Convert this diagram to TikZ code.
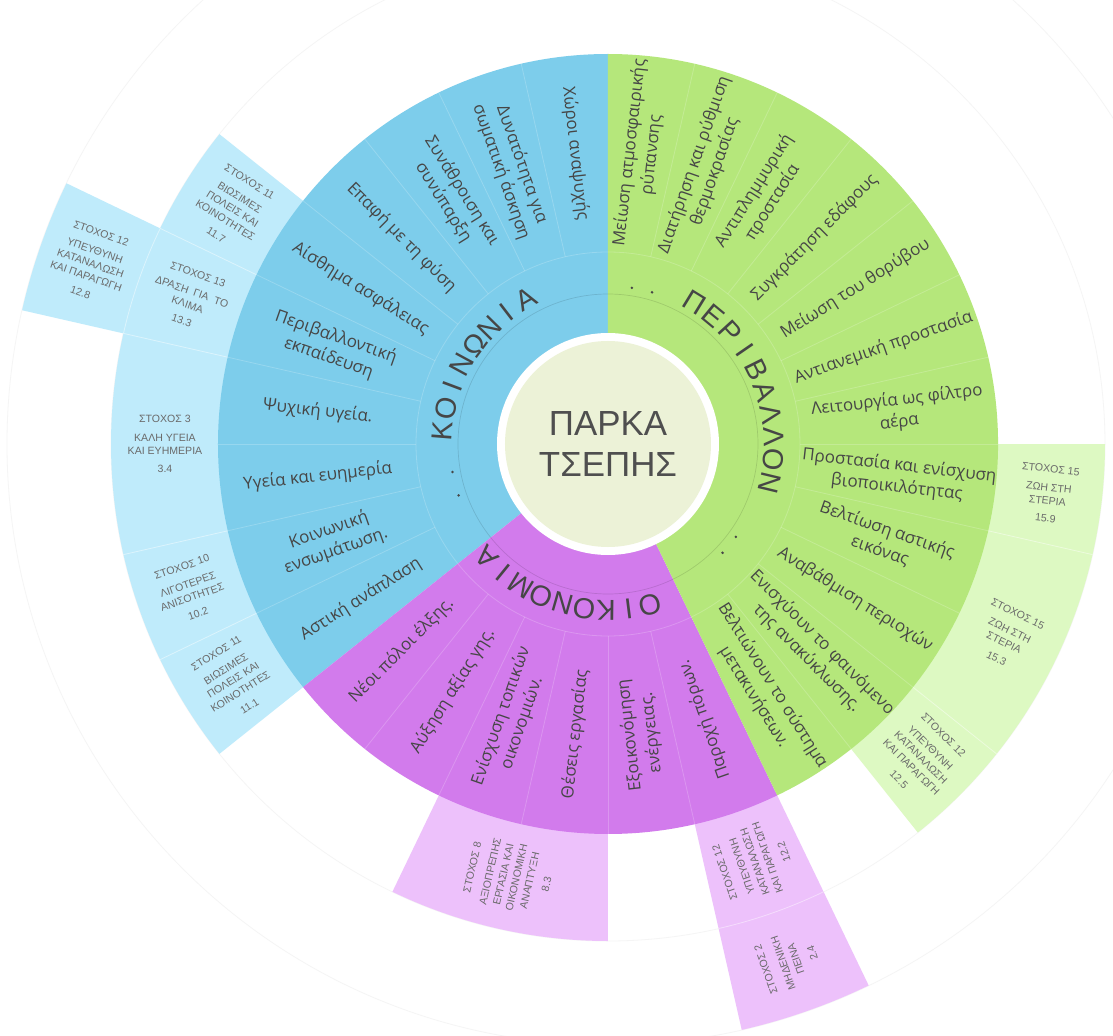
\documentclass[tikz,border=0pt]{standalone}
\usepackage{fontspec}
\setmainfont{Open Sans}
\newfontfamily\arialf{Liberation Sans}
\definecolor{cblue}{HTML}{7DCDEB}
\definecolor{cbluel}{HTML}{BFEBFB}
\definecolor{cgreen}{HTML}{B5E77B}
\definecolor{cgreenl}{HTML}{DDF9C2}
\definecolor{cpurp}{HTML}{D27BEC}
\definecolor{cpurpl}{HTML}{EDC1FB}
\definecolor{cpale}{HTML}{ECF2D7}
\definecolor{ctext}{HTML}{464646}
\definecolor{cbox}{HTML}{6A6A6A}
\definecolor{ctitle}{HTML}{4F4F4F}
\newcommand\ringsec[5]{\fill[#1] (#2:#4) arc[start angle=#2,end angle=#3,radius=#4] -- (#3:#5) arc[start angle=#3,end angle=#2,radius=#5] -- cycle;}
\begin{document}
\begin{tikzpicture}[x=1bp,y=1bp,
  item/.style={font=\fontsize{17}{22}\selectfont, text=ctext, align=center, inner sep=0pt},
  sdg/.style={font=\arialf\fontsize{10.6}{13.5}\selectfont, text=cbox, align=center, inner sep=0pt},
  catl/.style={font=\arialf\fontsize{29}{29}\selectfont, text=ctext, inner sep=0pt},
  divl/.style={white, opacity=0.2, line width=0.8bp},
  boxl/.style={white, opacity=0.45, line width=0.8bp},
  faint/.style={black!4, line width=0.8bp}
]
\useasboundingbox (-608,-592) rectangle (505,444);
\fill[white] (-608,-592) rectangle (505,444);
% faint guide circles
\draw[faint] (0,0) circle[radius=497];
\draw[faint] (0,0) circle[radius=601];
% outer SDG rings
\ringsec{cbluel}{141.43}{218.57}{385}{497}
\ringsec{cbluel}{154.29}{167.14}{495}{601}
\ringsec{cgreenl}{-51.43}{0}{385}{497}
\ringsec{cpurpl}{244.29}{270}{385}{497}
\ringsec{cpurpl}{282.86}{295.71}{385}{601}
% box separators
\foreach \a in {154.29,167.14,192.86,205.71,-12.86,-38.57}
  \draw[boxl] (\a:390) -- (\a:497);
\draw[boxl] (154.29:497) arc[start angle=154.29,end angle=167.14,radius=497];
\draw[boxl] (282.86:497) arc[start angle=282.86,end angle=295.71,radius=497];
% main sectors
\fill[cblue] (0,0) -- (90:390) arc[start angle=90,end angle=218.57,radius=390] -- cycle;
\fill[cpurp] (0,0) -- (218.57:390) arc[start angle=218.57,end angle=295.71,radius=390] -- cycle;
\fill[cgreen] (0,0) -- (-64.29:390) arc[start angle=-64.29,end angle=90,radius=390] -- cycle;
% item dividers
\draw[divl] (0,0) circle[radius=192];
\foreach \k in {1,...,9,11,12,13,14,15,17,18,...,27}
  \draw[divl] ({90+\k*12.857143}:192) -- ({90+\k*12.857143}:390);
\draw[black, opacity=0.12, line width=0.7bp] (0,0) circle[radius=150];
% centre
\fill[white] (0,0) circle[radius=111];
\fill[cpale] (0,0) circle[radius=103];
\node[font=\arialf\fontsize{35}{42}\selectfont, text=ctitle, align=center, inner sep=0pt] (park) at (0,0) {ΠΑΡΚΑ\\ΤΣΕΠΗΣ};
% category letters
\foreach \l [count=\i] in {Κ,Ο,Ι,Ν,Ω,Ν,Ι,Α}
  \node[catl, rotate={175.5-8*(\i-1)-90}] (k\i) at ({175.5-8*(\i-1)}:166) {\l};
\foreach \l [count=\i] in {Π,Ε,Ρ,Ι,Β,Α,Λ,Λ,Ο,Ν}
  \node[catl, rotate={58.5-8*(\i-1)-90}] (e\i) at ({58.5-8*(\i-1)}:166) {\l};
\foreach \l [count=\i] in {Ο,Ι,Κ,Ο,Ν,Ο,Μ,Ι,Α}
  \node[catl, rotate={284.8-7.7*(\i-1)-90}] (o\i) at ({284.8-7.7*(\i-1)}:166) {\l};
% dots
\foreach \a in {81.3,73.8,190.2,199,-36,-43.5}
  \fill[ctext] (\a:158) circle[radius=1.4];
% blue items
\node[item, rotate=-83.57] (b1) at (96.43:292) {Χώροι αναψυχής};
\node[item, rotate=-70.71] (b2) at (109.29:292) {Δυνατότητα για\\σωματική άσκηση};
\node[item, rotate=-57.86] (b3) at (122.14:292) {Συνάθροιση και\\συνύπαρξη};
\node[item, rotate=-45] (b4) at (135:292) {Επαφή με τη φύση};
\node[item, rotate=-32.14] (b5) at (147.86:292) {Αίσθημα ασφάλειας};
\node[item, rotate=-19.29] (b6) at (160.71:292) {Περιβαλλοντική\\εκπαίδευση};
\node[item, rotate=-6.43] (b7) at (173.57:292) {Ψυχική υγεία.};
\node[item, rotate=6.43] (b8) at (186.43:292) {Υγεία και ευημερία};
\node[item, rotate=19.29] (b9) at (199.29:292) {Κοινωνική\\ενσωμάτωση.};
\node[item, rotate=32.14] (b10) at (212.14:292) {Αστική ανάπλαση};
% purple items
\node[item, rotate=45] (p1) at (225:292) {Νέοι πόλοι έλξης.};
\node[item, rotate=57.86] (p2) at (237.86:292) {Αύξηση αξίας γης.};
\node[item, rotate=70.71] (p3) at (250.71:292) {Ενίσχυση τοπικών\\οικονομιών.};
\node[item, rotate=83.57] (p4) at (263.57:292) {Θέσεις εργασίας};
\node[item, rotate=96.43] (p5) at (276.43:292) {Εξοικονόμηση\\ενέργειας.};
\node[item, rotate=109.29] (p6) at (289.29:292) {Παροχή πόρων.};
% green items
\node[item, rotate=83.57] (g1) at (83.57:292) {Μείωση ατμοσφαιρικής\\ρύπανσης};
\node[item, rotate=70.71] (g2) at (70.71:292) {Διατήρηση και ρύθμιση\\θερμοκρασίας};
\node[item, rotate=57.86] (g3) at (57.86:292) {Αντιπλημμυρική\\προστασία};
\node[item, rotate=45] (g4) at (45:292) {Συγκράτηση εδάφους};
\node[item, rotate=32.14] (g5) at (32.14:292) {Μείωση του θορύβου};
\node[item, rotate=19.29] (g6) at (19.29:292) {Αντιανεμική προστασία};
\node[item, rotate=6.43] (g7) at (6.43:292) {Λειτουργία ως φίλτρο\\αέρα};
\node[item, rotate=-6.43] (g8) at (-6.43:292) {Προστασία και ενίσχυση\\βιοποικιλότητας};
\node[item, rotate=-19.29] (g9) at (-19.29:292) {Βελτίωση αστικής\\εικόνας};
\node[item, rotate=-32.14] (g10) at (-32.14:292) {Αναβάθμιση περιοχών};
\node[item, rotate=-45] (g11) at (-45:292) {Ενισχύουν το φαινόμενο\\της ανακύκλωσης.};
\node[item, rotate=-57.86] (g12) at (-57.86:292) {Βελτιώνουν το σύστημα\\μετακινήσεων.};
% SDG boxes
\node[sdg, rotate=-32.14] (s117) at (147.86:443) {ΣΤΟΧΟΣ 11\\[5pt]ΒΙΩΣΙΜΕΣ\\ΠΟΛΕΙΣ ΚΑΙ\\ΚΟΙΝΟΤΗΤΕΣ\\[4pt]11.7};
\node[sdg, rotate=-19.29] (s133) at (160.71:443) {ΣΤΟΧΟΣ 13\\[5pt]ΔΡΑΣΗ~~ΓΙΑ~~ΤΟ\\ΚΛΙΜΑ\\[4pt]13.3};
\node[sdg, rotate=-19.29] (s128) at (160.71:548) {ΣΤΟΧΟΣ 12\\[5pt]ΥΠΕΥΘΥΝΗ\\ΚΑΤΑΝΑΛΩΣΗ\\ΚΑΙ ΠΑΡΑΓΩΓΗ\\[4pt]12.8};
\node[sdg, rotate=0] (s34) at (180:443) {ΣΤΟΧΟΣ 3\\[5pt]ΚΑΛΗ ΥΓΕΙΑ\\ΚΑΙ ΕΥΗΜΕΡΙΑ\\[4pt]3.4};
\node[sdg, rotate=19.29] (s102) at (199.29:443) {ΣΤΟΧΟΣ 10\\[5pt]ΛΙΓΟΤΕΡΕΣ\\ΑΝΙΣΟΤΗΤΕΣ\\[4pt]10.2};
\node[sdg, rotate=32.14] (s111) at (212.14:443) {ΣΤΟΧΟΣ 11\\[5pt]ΒΙΩΣΙΜΕΣ\\ΠΟΛΕΙΣ ΚΑΙ\\ΚΟΙΝΟΤΗΤΕΣ\\[4pt]11.1};
\node[sdg, rotate=-6.43] (s159) at (-6.43:443) {ΣΤΟΧΟΣ 15\\[5pt]ΖΩΗ ΣΤΗ\\ΣΤΕΡΙΑ\\[4pt]15.9};
\node[sdg, rotate=-25.71] (s153) at (-25.71:443) {ΣΤΟΧΟΣ 15\\[5pt]ΖΩΗ ΣΤΗ\\ΣΤΕΡΙΑ\\[4pt]15.3};
\node[sdg, rotate=-45] (s125) at (-45:443) {ΣΤΟΧΟΣ 12\\[5pt]ΥΠΕΥΘΥΝΗ\\ΚΑΤΑΝΑΛΩΣΗ\\ΚΑΙ ΠΑΡΑΓΩΓΗ\\[4pt]12.5};
\node[sdg, rotate=77.14] (s83) at (257.14:443) {ΣΤΟΧΟΣ 8\\[5pt]ΑΞΙΟΠΡΕΠΗΣ\\ΕΡΓΑΣΙΑ ΚΑΙ\\ΟΙΚΟΝΟΜΙΚΗ\\ΑΝΑΠΤΥΞΗ\\[4pt]8.3};
\node[sdg, rotate=109.29] (s122) at (289.29:443) {ΣΤΟΧΟΣ 12\\[5pt]ΥΠΕΥΘΥΝΗ\\ΚΑΤΑΝΑΛΩΣΗ\\ΚΑΙ ΠΑΡΑΓΩΓΗ\\[4pt]12.2};
\node[sdg, rotate=109.29] (s24) at (289.29:548) {ΣΤΟΧΟΣ 2\\[5pt]ΜΗΔΕΝΙΚΗ\\ΠΕΙΝΑ\\[4pt]2.4};
\end{tikzpicture}
\end{document}
